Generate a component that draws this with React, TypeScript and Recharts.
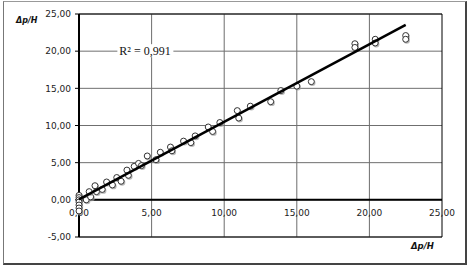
import React from 'react';
import {
  ScatterChart, Scatter, XAxis, YAxis, CartesianGrid, ReferenceLine, ReferenceArea, ReferenceDot,
} from 'recharts';

const xValues = [
  0, 0, 0, 0, 0, 0, 0,
  0.5, 0.8, 0.7, 1.1, 1.2, 1.6, 1.9, 2.3, 2.6, 2.9, 3.3, 3.4, 3.8, 4.1, 4.3, 4.7,
  5.3, 5.6, 6.3, 6.4, 7.2, 7.7, 8.0, 8.9, 9.2, 9.7, 10.9, 11.0, 11.8,
  13.2, 13.9, 15.0, 16.0, 19.0, 19.0, 20.4, 20.4, 22.5, 22.5,
];
const yValues = [
  0.6, 0.3, 0.0, -0.3, -0.7, -1.1, -1.5,
  0.0, 0.4, 1.1, 1.9, 1.1, 1.4, 2.4, 2.0, 3.0, 2.5, 4.0, 3.3, 4.5, 4.9, 4.6, 5.9,
  5.4, 6.4, 7.1, 6.6, 7.9, 7.7, 8.6, 9.8, 9.2, 10.4, 12.0, 11.0, 12.6,
  13.2, 14.7, 15.3, 15.9, 21.0, 20.5, 21.6, 21.1, 22.1, 21.6,
];
const trendX = [0, 22.5];
const trendY = [0.05, 23.55];
const xTicks = [0, 5, 10, 15, 20, 25];
const yTicks = [-5, 0, 5, 10, 15, 20, 25];
const axisTitle = 'Δp/H';
const r2Text = 'R² = 0,991';

const points = xValues.map((x, i) => ({ x, y: yValues[i] }));
const trend = trendX.map((x, i) => ({ x, y: trendY[i] }));
const fmt = (v: number) => v.toFixed(2).replace('.', ',');
const GRID_HALF = 0.035;

const FONT = '"DejaVu Sans", Verdana, sans-serif';

const Dot = (props: any) => {
  const { cx, cy } = props;
  if (cx == null || cy == null) return null;
  return (
    <g>
      <circle cx={cx + 1} cy={cy + 1.2} r={3.2} fill="#9a9a9a" opacity={0.7} />
      <circle cx={cx} cy={cy} r={3} fill="#fff" stroke="#333" strokeWidth={1} />
    </g>
  );
};

const NoShape = () => <g />;

const XTickLabel = (text: string) => (props: any) => {
  const { viewBox } = props;
  const x = viewBox.x + (viewBox.width || 0) / 2;
  const y = viewBox.y + (viewBox.height || 0) / 2;
  return (
    <text x={x} y={y + 16} textAnchor="middle" fontSize={9} fontFamily={FONT} fill="#222">
      {text}
    </text>
  );
};

const R2Label = (props: any) => {
  const { viewBox } = props;
  const x = viewBox.x + (viewBox.width || 0) / 2;
  const y = viewBox.y + (viewBox.height || 0) / 2;
  return (
    <g>
      <rect x={x - 2} y={y - 7} width={56} height={13} fill="#fff" />
      <text x={x} y={y + 4} textAnchor="start" fontSize={12} fontFamily='"Liberation Serif", "Times New Roman", serif' fill="#111">
        {r2Text}
      </text>
    </g>
  );
};

export default function App() {
  return (
    <div style={{ position: 'absolute', left: 0, top: 0, width: 468, height: 268, background: '#fff' }}>
      <div
        style={{
          position: 'absolute', left: 3, top: 1, width: 461, height: 261,
          borderLeft: '1px solid #777', borderTop: '1px solid #999',
          borderRight: '2px solid #444', borderBottom: '2px solid #444',
        }}
      />
      <div style={{ position: 'absolute', left: 0, top: 0 }}>
        <ScatterChart width={468} height={268} margin={{ top: 14, right: 26, bottom: 11, left: 0 }}>
          <CartesianGrid stroke="#6f6f6f" strokeWidth={1} vertical={false} />
          <XAxis
            type="number" dataKey="x" domain={[0, 25]} ticks={xTicks}
            height={20} tick={false} axisLine={false} tickLine={false}
          />
          <YAxis
            type="number" dataKey="y" domain={[-5, 25]} ticks={yTicks} width={79}
            tickFormatter={fmt} tickSize={4} tickMargin={4}
            axisLine={{ stroke: '#000', strokeWidth: 2 }} tickLine={{ stroke: '#000' }}
            tick={{ fontSize: 9, fontFamily: FONT, fill: '#222' }}
          />
          {xTicks.slice(1, -1).map((v) => (
            <ReferenceArea
              key={'g' + v} x1={v - GRID_HALF} x2={v + GRID_HALF}
              y1={yTicks[0]} y2={yTicks[yTicks.length - 1]}
              fill="#6f6f6f" fillOpacity={1} stroke="none"
            />
          ))}
          <ReferenceArea x1={0} x2={25} y1={-5} y2={25} fill="none" fillOpacity={0} stroke="#000" strokeWidth={1} />
          <ReferenceLine y={0} stroke="#000" strokeWidth={2} />
          <ReferenceDot x={2.78} y={20} r={0} fill="none" stroke="none" label={<R2Label />} />
          {xTicks.map((v) => (
            <ReferenceDot key={v} x={v} y={0} r={0} fill="none" stroke="none" label={XTickLabel(fmt(v))} />
          ))}
          <Scatter data={points} shape={<Dot />} isAnimationActive={false} />
          <Scatter data={trend} line={{ stroke: '#000', strokeWidth: 2.5 }} shape={<NoShape />} isAnimationActive={false} />
        </ScatterChart>
      </div>
      <div style={{ position: 'absolute', left: 16, top: 16, font: `italic bold 8px ${FONT}`, color: '#111' }}>{axisTitle}</div>
      <div style={{ position: 'absolute', left: 411, top: 241, font: `italic bold 8.5px ${FONT}`, color: '#111' }}>{axisTitle}</div>
    </div>
  );
}
